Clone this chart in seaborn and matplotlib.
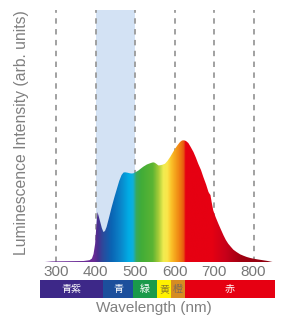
import numpy as np
import matplotlib
matplotlib.use("Agg")
import matplotlib.pyplot as plt
from matplotlib.colors import LinearSegmentedColormap
import seaborn as sns

# spectrum (wavelength nm, intensity arb. units)
wavelength = [272, 290, 330, 370, 385, 391, 395, 399, 402, 405, 408, 412, 416, 420, 424,
              428, 434, 441, 448, 454, 460, 466, 471, 475, 481, 487, 492, 496, 502, 508,
              515, 521, 530, 538, 544, 548, 553, 559, 563, 569, 576, 582, 589, 595, 601,
              608, 614, 619, 624, 629, 635, 641, 648, 654, 660, 667, 673, 680, 686, 689,
              691, 694, 698, 704, 711, 718, 724, 730, 736, 743, 749, 757, 766, 775, 783,
              792, 800, 812, 825, 836, 848]
intensity = [0.0, 0.6, 0.8, 1.0, 1.8, 3.5, 8, 18, 35, 50, 46, 40, 34, 30, 31,
             35, 44, 55, 65, 73, 81, 87, 89.5, 89.7, 89.3, 88.7, 88.5, 88.7, 90, 91.3,
             93.5, 95.3, 97.5, 98.7, 99.5, 99.6, 98.5, 96.6, 96.7, 97.2, 98.3, 101, 105, 109, 113,
             117, 120, 121.5, 121.7, 121, 119, 115, 110, 104.5, 98.3, 92, 85, 77.5, 70, 68,
             67, 60, 51.7, 45, 38.3, 32, 26.7, 22, 18.3, 15, 12.3, 10, 7.7, 6.2, 5,
             4, 3.3, 2.5, 1.7, 1.0, 0.0]

tick_values = [300, 400, 500, 600, 700, 800]
highlight = (400, 500)

# colour bands under the axis
band_edges = [259.5, 419, 495, 556, 591, 627, 854.4]
band_names = ["青紫", "青", "緑", "黄", "橙", "赤"]
band_colors = ["#3d2888", "#1c4f9c", "#1a9a4a", "#fff100", "#d68c22", "#e60012"]
band_text = ["white", "white", "white", "#8a7a28", "#7a6a5a", "white"]

# gradient used to paint the spectrum
grad_wl = [259.5, 395, 405, 418, 440, 465, 485, 495, 503, 515, 545, 560, 572, 582, 592,
           605, 618, 625, 627, 695, 730, 770, 854.4]
grad_col = ["#6a2a96", "#6a2a96", "#4a2d8e", "#2c4a9c", "#0a64b4", "#0a88cc", "#00aee6",
            "#10b0d8", "#3aa85a", "#40ac38", "#5cb433", "#a8cc38", "#f0ec50", "#fbe64a",
            "#fbc22a", "#f39a18", "#ec7010", "#e85010", "#e60012", "#e60012", "#c8001a",
            "#a00010", "#8a0010"]

sns.set_theme(style="white")
plt.rcParams["font.family"] = ["Liberation Sans", "DejaVu Sans"]

xmin, xmax = band_edges[0], band_edges[-1]
ymax = 252

fig = plt.figure(figsize=(2.87, 3.22), dpi=100)
ax = fig.add_axes([40 / 287, 60 / 322, 235 / 287, 252 / 322])
ax.set_xlim(xmin, xmax)
ax.set_ylim(0, ymax)

ax.axvspan(*highlight, color="#d3e2f4", lw=0, zorder=0)
for t in tick_values:
    ax.axvline(t, color="#9a9a9a", lw=1.3, ls=(0, (3, 3)), zorder=1)

poly = ax.fill_between(wavelength, intensity, 0, facecolor="none", edgecolor="none")
pos = [(w - xmin) / (xmax - xmin) for w in grad_wl]
cmap = LinearSegmentedColormap.from_list("spec", list(zip(pos, grad_col)))
grad = np.linspace(0, 1, 1200).reshape(1, -1)
im = ax.imshow(grad, cmap=cmap, aspect="auto", extent=[xmin, xmax, 0, ymax],
               origin="lower", interpolation="bilinear", zorder=2)
im.set_clip_path(poly.get_paths()[0], ax.transData)

ax.set_xticks(tick_values)
ax.set_xticklabels([str(t) for t in tick_values], fontsize=11, color="#777777")
ax.tick_params(axis="x", length=0, pad=2)
ax.set_yticks([])
sns.despine(ax=ax, left=True, bottom=True)

bar = fig.add_axes([40 / 287, 24 / 322, 235 / 287, 18 / 322])
bar.set_xlim(xmin, xmax)
bar.set_ylim(0, 1)
for i, name in enumerate(band_names):
    a, b = band_edges[i], band_edges[i + 1]
    bar.axvspan(a, b, color=band_colors[i], lw=0)
    bar.text((a + b) / 2, 0.5, name, ha="center", va="center", fontsize=7.2,
             color=band_text[i], family=["Noto Sans CJK JP", "DejaVu Sans"])
bar.set_axis_off()

fig.text(153.5 / 287, 14 / 322, "Wavelength (nm)", ha="center", va="center",
         fontsize=11, color="#808080")
fig.text(22 / 287, 189 / 322, "Luminescence Intensity (arb. units)", ha="center",
         va="center", rotation=90, fontsize=11.3, color="#808080")

fig.savefig("out.png", dpi=100)
